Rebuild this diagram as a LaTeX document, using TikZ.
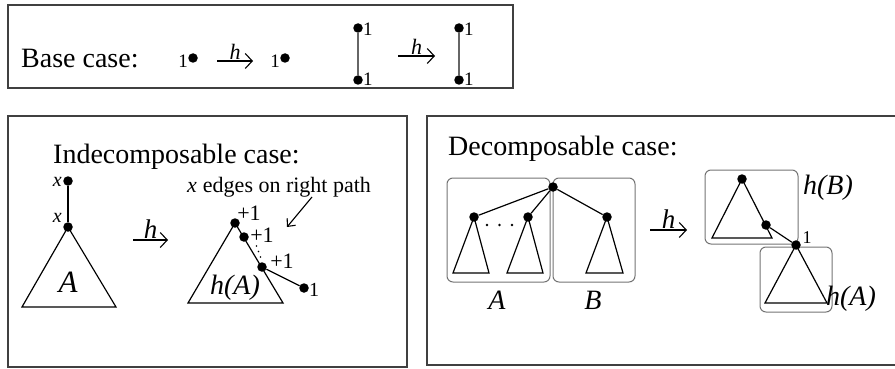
\documentclass[tikz,border=0pt]{standalone}
\usepackage{fontspec}
\setmainfont{Liberation Serif}
\usetikzlibrary{arrows.meta}
\begin{document}
\begin{tikzpicture}[x=1pt,y=-1pt,
  dot/.style={circle,fill=black,inner sep=0pt,minimum size=9.5pt},
  tinydot/.style={circle,fill=black,inner sep=0pt,minimum size=2.8pt},
  frame/.style={draw=black!75,line width=1.3pt},
  subbox/.style={draw=black!55,line width=1pt,rounded corners=6pt},
  edge/.style={line width=1.2pt},
  grayedge/.style={line width=1.4pt,draw=black!60},
  harrow/.style={line width=1.1pt,-{Straight Barb[length=7pt,width=15pt,line width=1.1pt]}},
  ptr/.style={line width=1.1pt,-{Straight Barb[length=6pt,width=11pt,line width=1.1pt]}},
  title/.style={font=\fontsize{28}{32}\selectfont,inner sep=0pt},
  big/.style={font=\fontsize{28}{32}\selectfont\itshape,inner sep=0pt},
  hlab/.style={font=\fontsize{27}{30}\selectfont\itshape,inner sep=1pt},
  small/.style={font=\fontsize{19}{22}\selectfont,inner sep=0pt},
  mid/.style={font=\fontsize{22}{25}\selectfont,inner sep=0pt}
]
\useasboundingbox (0,0) rectangle (895,369);

% ---------------- Base case ----------------
\draw[frame] (8,5) rectangle (513,88);
\node[title,anchor=base west] (basetitle) at (21,67) {Base case:};
\node[dot] (b1) at (193,58) {};
\node[small,anchor=base east] (b1l) at (188,67) {1};
\coordinate (ba1) at (217,61);
\coordinate (ba2) at (253,61);
\draw[harrow] (ba1) -- (ba2) node[midway,above,hlab,font=\fontsize{22}{24}\selectfont\itshape] (bh1) {h};
\node[dot] (b2) at (285,58) {};
\node[small,anchor=base east] (b2l) at (280,67) {1};

\node[dot] (b3) at (358,28) {};
\node[dot] (b4) at (358,80) {};
\draw[grayedge] (b3) -- (b4);
\node[small,anchor=west] (b3l) at (363,29) {1};
\node[small,anchor=west] (b4l) at (363,79) {1};
\coordinate (ba3) at (398,56);
\coordinate (ba4) at (435,56);
\draw[harrow] (ba3) -- (ba4) node[midway,above,hlab,font=\fontsize{22}{24}\selectfont\itshape] (bh2) {h};
\node[dot] (b5) at (459,28) {};
\node[dot] (b6) at (459,80) {};
\draw[grayedge] (b5) -- (b6);
\node[small,anchor=west] (b5l) at (464,29) {1};
\node[small,anchor=west] (b6l) at (464,79) {1};

% ---------------- Indecomposable case ----------------
\draw[frame] (8,116) rectangle (407,367);
\node[title,anchor=base west] (indtitle) at (53,163) {Indecomposable case:};
\node[dot] (t1) at (68,181) {};
\node[dot] (t2) at (68,227) {};
\draw[edge] (t1) -- (t2);
\node[mid,anchor=east,font=\fontsize{20}{24}\selectfont\itshape] (t1l) at (62,182) {x};
\node[mid,anchor=east,font=\fontsize{20}{24}\selectfont\itshape] (t2l) at (62,218) {x};
\coordinate (tl) at (22,307);
\coordinate (tr) at (116,307);
\draw[edge] (t2.center) -- (tl) -- (tr) -- cycle;
\node[big,font=\fontsize{31}{34}\selectfont\itshape] (tA) at (68,282) {A};

\coordinate (ia1) at (133,240);
\coordinate (ia2) at (168,240);
\draw[harrow] (ia1) -- (ia2) node[midway,above,hlab] (ih) {h};

\coordinate (rl) at (188,303);
\coordinate (rr) at (283,303);
\node[dot] (r1) at (235,223) {};
\node[dot] (r2) at (244,237) {};
\node[dot] (r3) at (262,267) {};
\node[dot] (r4) at (304,288) {};
\draw[edge] (r1.center) -- (rl) -- (rr) -- cycle;
\draw[edge] (r3) -- (r4);
\node[tinydot,minimum size=1.6pt] (p1) at (256.5,246) {};
\node[tinydot,minimum size=1.6pt] (p2) at (258.5,251.5) {};
\node[tinydot,minimum size=1.6pt] (p3) at (260.5,257) {};
\node[mid] (r1l) at (249,213) {+1};
\node[mid] (r2l) at (262,235) {+1};
\node[mid] (r3l) at (282,261) {+1};
\node[mid,anchor=west,font=\fontsize{20}{22}\selectfont] (r4l) at (309,290) {1};
\node[big] (rA) at (235,288) {h(A)};
\node[mid,anchor=base west,font=\fontsize{22}{26}\selectfont] (rtext) at (187,192) {\textit{x}\hspace{6pt}edges on right path};
\coordinate (pt1) at (312,197);
\coordinate (pt2) at (287,227);
\draw[ptr] (pt1) -- (pt2);

% ---------------- Decomposable case ----------------
\draw[frame] (897,116) -- (427,116) -- (427,365) -- (897,365);
\node[title,anchor=base west] (dectitle) at (448,155) {Decomposable case:};
\draw[subbox] (447,178) rectangle (550,282);
\draw[subbox] (553,178) rectangle (635,282);
\node[dot] (d0) at (553,187) {};
\node[dot] (d1) at (474,217) {};
\node[dot] (d2) at (528,217) {};
\node[dot] (d3) at (607,217) {};
\draw[edge] (d0) -- (d1);
\draw[edge] (d0) -- (d2);
\draw[edge] (d0) -- (d3);
\draw[edge] (d1.center) -- (453,273) -- (489,273) -- cycle;
\draw[edge] (d2.center) -- (507,273) -- (543,273) -- cycle;
\draw[edge] (d3.center) -- (586,273) -- (623,273) -- cycle;
\node[tinydot] (q1) at (487,225) {};
\node[tinydot] (q2) at (499.5,225) {};
\node[tinydot] (q3) at (512,225) {};
\node[big] (dA) at (497,300) {A};
\node[big] (dB) at (593,300) {B};

\coordinate (da1) at (650,230);
\coordinate (da2) at (687,230);
\draw[harrow] (da1) -- (da2) node[midway,above,hlab] (dh) {h};

\draw[subbox] (705,170) rectangle (798,244);
\draw[subbox] (760,247) rectangle (832,312);
\node[dot] (e0) at (742,179) {};
\node[dot] (e1) at (766,225) {};
\node[dot] (e2) at (796,245) {};
\draw[edge] (e0.center) -- (712,238) -- (772,238) -- cycle;
\draw[edge] (e1) -- (e2);
\draw[edge] (e2.center) -- (765,303) -- (827,303) -- cycle;
\node[small,font=\fontsize{18}{20}\selectfont] (e2l) at (807,238) {1};
\node[big] (hB) at (828,188) {h(B)};
\node[big] (hA) at (851,299) {h(A)};
\end{tikzpicture}
\end{document}
